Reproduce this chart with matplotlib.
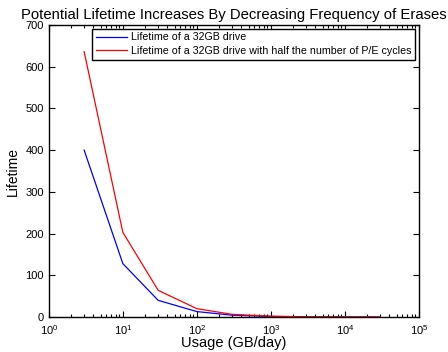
import matplotlib
matplotlib.use("Agg")
import matplotlib.pyplot as plt
from matplotlib.ticker import LogLocator, MultipleLocator, NullFormatter

plt.rcParams['font.family'] = ['Liberation Sans', 'DejaVu Sans']

usage = [3, 10, 30, 100, 300, 1000, 3000, 10000, 30000]
life_full = [400, 128, 40, 13, 4.3, 1.3, 0.43, 0.13, 0.04]
life_half = [636, 203, 64, 20, 6.4, 2.0, 0.64, 0.2, 0.06]
labels = ["Lifetime of a 32GB drive",
          "Lifetime of a 32GB drive with half the number of P/E cycles"]

fig = plt.figure(figsize=(4.48, 3.52), dpi=100)
ax = fig.add_axes([0.109, 0.0994, 0.826, 0.8296])
ax.plot(usage, life_full, color='#0000ff', lw=0.9, label=labels[0])
ax.plot(usage, life_half, color='#ff0000', lw=0.9, label=labels[1])
ax.set_xscale('log')
ax.set_xlim(1, 1e5)
ax.set_ylim(0, 700)
ax.yaxis.set_major_locator(MultipleLocator(100))
ax.xaxis.set_major_locator(LogLocator(base=10, numticks=10))
ax.xaxis.set_minor_locator(LogLocator(base=10, subs=range(2, 10), numticks=20))
ax.xaxis.set_minor_formatter(NullFormatter())
ax.tick_params(which='both', direction='in', top=True, right=True, labelsize=8, width=0.8)
ax.tick_params(which='major', length=4)
ax.tick_params(which='minor', length=2)
ax.tick_params(axis='x', which='major', pad=4.5)
ax.tick_params(axis='y', which='major', pad=3.5)
for s in ax.spines.values():
    s.set_linewidth(1.0)
ax.set_xlabel("Usage (GB/day)", fontsize=10.5, labelpad=-1)
ax.set_ylabel("Lifetime", fontsize=10, labelpad=4)
ax.set_title("Potential Lifetime Increases By Decreasing Frequency of Erases", fontsize=10.7, pad=4)
leg = ax.legend(loc='upper right', fontsize=7.7, frameon=True, fancybox=False,
                edgecolor='black', framealpha=1, borderpad=0.35, handlelength=2.9,
                handletextpad=0.4, labelspacing=0.35, borderaxespad=0.35)
leg.get_frame().set_linewidth(1.0)
fig.savefig("out.png", dpi=100)
